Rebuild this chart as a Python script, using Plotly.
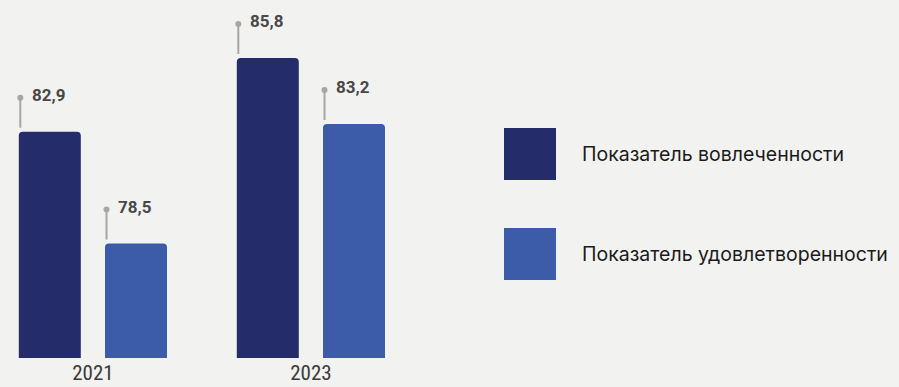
import plotly.graph_objects as go

years = ["2021", "2023"]
series_names = ["Показатель вовлеченности", "Показатель удовлетворенности"]
engagement = [82.9, 85.8]
satisfaction = [78.5, 83.2]
value_labels = [["82,9", "85,8"], ["78,5", "83,2"]]

colors = ["#242D69", "#3C5BA9"]
bg = "#F2F2F0"

PX_PER_CAT = 218.0
bar_w = 62 / PX_PER_CAT
offsets = [-74.1 / PX_PER_CAT, 12.1 / PX_PER_CAT]

xs = list(range(len(years)))
series = [engagement, satisfaction]

fig = go.Figure()
for s, (name, vals) in enumerate(zip(series_names, series)):
    fig.add_trace(go.Bar(
        x=xs, y=vals, name=name, width=bar_w, offset=offsets[s],
        marker=dict(color=colors[s], line=dict(width=0)),
        showlegend=False, hoverinfo="skip",
    ))

shapes = []
annotations = []
for s, vals in enumerate(series):
    for i, v in enumerate(vals):
        xp = xs[i] + offsets[s]
        shapes.append(dict(type="line", xref="x", yref="y", xsizemode="pixel", ysizemode="pixel",
                           xanchor=xp, yanchor=v, x0=1.5, x1=1.5, y0=4, y1=33,
                           line=dict(color="#A6A6A6", width=2), layer="above"))
        shapes.append(dict(type="circle", xref="x", yref="y", xsizemode="pixel", ysizemode="pixel",
                           xanchor=xp, yanchor=v, x0=-1.5, x1=4.5, y0=31, y1=37,
                           fillcolor="#A6A6A6", line=dict(width=0), layer="above"))
        annotations.append(dict(x=xp, y=v, xref="x", yref="y", text=value_labels[s][i],
                                showarrow=False, xanchor="left", yanchor="middle",
                                xshift=11, yshift=37,
                                font=dict(family="Roboto", size=17, color="#484848", weight="bold")))

# legend drawn manually
leg_y = [(128, 180), (228, 280)]
H = 387.0
W = 899.0
for s, name in enumerate(series_names):
    y0, y1 = leg_y[s]
    shapes.append(dict(type="rect", xref="paper", yref="paper",
                       x0=504 / W, x1=556 / W, y0=(H - y1 - 29) / (H - 31), y1=(H - y0 - 29) / (H - 31),
                       fillcolor=colors[s], line=dict(width=0)))
    annotations.append(dict(x=580 / W, y=(H - (y0 + y1) / 2 - 29) / (H - 31), xref="paper", yref="paper",
                            text=name, showarrow=False, xanchor="left", yanchor="middle",
                            font=dict(family="Inter", size=19.5, color="#1A1A1A")))

fig.update_layout(
    width=899, height=387,
    margin=dict(l=0, r=0, t=2, b=29, autoexpand=False),
    paper_bgcolor=bg, plot_bgcolor=bg,
    barmode="overlay", barcornerradius=4,
    shapes=shapes, annotations=annotations,
    xaxis=dict(domain=[0, 440 / W], range=[-92.9 / PX_PER_CAT, -92.9 / PX_PER_CAT + 440 / PX_PER_CAT],
               tickvals=xs, ticktext=years, showgrid=False, zeroline=False, showline=False,
               ticks="", ticklabelstandoff=0, automargin=False,
               tickfont=dict(family="Roboto Condensed, DejaVu Sans Condensed, Liberation Sans Narrow, Roboto",
                             size=21, color="#3A3A3A")),
    yaxis=dict(range=[74, 88], visible=False, showgrid=False, zeroline=False, automargin=False),
)
fig.write_html("out.html", config={"displayModeBar": False},
               post_script="document.body.style.margin='0';document.body.style.overflow='hidden';")
